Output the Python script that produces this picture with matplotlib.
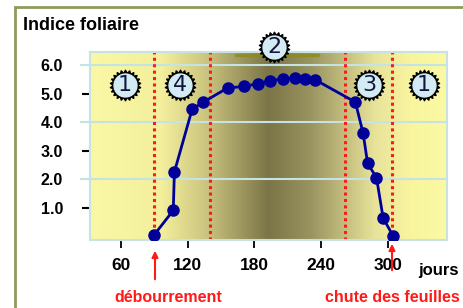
import numpy as np
import matplotlib
matplotlib.use("Agg")
import matplotlib.pyplot as plt
from matplotlib.path import Path
from matplotlib.colors import LinearSegmentedColormap
from matplotlib.patches import Rectangle

# ---- data ----
days = [90, 107, 108, 124, 134, 156, 171, 183, 194, 206, 217, 226, 235, 271, 278, 282, 290, 296, 305]
lai = [0.05, 0.9, 2.25, 4.45, 4.7, 5.2, 5.25, 5.35, 5.45, 5.52, 5.55, 5.52, 5.48, 4.7, 3.6, 2.55, 2.05, 0.63, 0.0]
phase_lines = [90, 140, 262, 304]
x_ticks = [60, 120, 180, 240, 300]
y_major = [2, 4, 6]
y_minor = [1, 3, 5]
badges = [("1", 125, 85), ("4", 180, 85), ("2", 274, 47), ("3", 369, 85), ("1", 424, 85)]

W, H = 463, 308
plt.rcParams['font.family'] = ['Liberation Sans', 'DejaVu Sans']
fig = plt.figure(figsize=(W / 100, H / 100), dpi=100)
fig.patch.set_facecolor('white')

def fx(px):
    return px / W

def fy(py):
    return 1 - py / H

ax = fig.add_axes([fx(90), fy(240), fx(447) - fx(90), fy(52) - fy(240)])
xmin, xmax = 32, 353.5
ymin, ymax = -0.14, 6.46
ax.set_xlim(xmin, xmax)
ax.set_ylim(ymin, ymax)

# gradient background
cmap = LinearSegmentedColormap.from_list(
    "bg", [(0.0, "#FAF8A6"), (0.2, "#F3EF9C"), (0.33, "#C9C27E"),
           (0.5, "#7B7547"), (0.62, "#9A9460"), (0.8, "#E8E39A"),
           (0.9, "#F8F59E"), (1.0, "#FBF9A4")])
grad = np.linspace(0, 1, 256).reshape(1, -1)
ax.imshow(grad, extent=[xmin, xmax, ymin, ymax], aspect='auto', cmap=cmap, zorder=0)

# olive smudge near top
ax.plot([0.41, 0.64], [0.985, 0.985], transform=ax.transAxes, color='#8E8A1E', lw=2.5,
        alpha=0.8, zorder=1, solid_capstyle='round')

for v in y_major:
    ax.axhline(v, color='#C4E4E4', lw=1.5, zorder=1)

for v in phase_lines:
    ax.axvline(v, color='#FF1A1A', lw=2.2, ls=(0, (1, 1.1)), zorder=2)

ax.plot(days, lai, color='#000099', lw=2, marker='o', ms=8, mfc='#000099', mec='#000099', zorder=3)

for s in ax.spines.values():
    s.set_color('#C8E2E2')
    s.set_linewidth(1.5)

ax.set_xticks(x_ticks)
ax.set_xticklabels([str(v) for v in x_ticks], fontsize=12.5, fontweight='bold')
ax.tick_params(axis='x', length=6, width=1.3, color='black', pad=7)
ax.set_yticks(y_major)
ax.set_yticklabels([f"{v:.1f}" for v in y_major], fontsize=11.5, fontweight='bold')
ax.set_yticks(y_minor, minor=True)
ax.set_yticklabels([f"{v:.1f}" for v in y_minor], minor=True, fontsize=11.5, fontweight='bold')
ax.tick_params(axis='y', which='major', length=7.5, width=1.5, color='#C4E4E4', pad=12)
ax.tick_params(axis='y', which='minor', length=6, width=1.5, color='black', pad=13.5)

# outer frame
fig.add_artist(Rectangle((fx(15), -0.2), 1.5, fy(7) + 0.2, transform=fig.transFigure,
                         fill=False, edgecolor='#8C9C5C', lw=2))

# title and labels
fig.text(fx(23), fy(25), "Indice foliaire", fontsize=13, fontweight='bold', va='center', ha='left')
fig.text(fx(418), fy(270), "jours", fontsize=12, fontweight='bold', va='center', ha='left')
fig.text(fx(168), fy(297), "débourrement", fontsize=11.5, fontweight='bold', color='#FF1A1A',
         va='center', ha='center')
fig.text(fx(325), fy(298), "chute des feuilles", fontsize=11.5, fontweight='bold', color='#FF1A1A',
         va='center', ha='left')

# arrows
for x0, yb, yt in [(155, 282, 248), (392, 273, 241)]:
    fig.add_artist(matplotlib.patches.FancyArrowPatch(
        (fx(x0), fy(yb)), (fx(x0), fy(yt)), transform=fig.transFigure,
        arrowstyle='-|>', mutation_scale=9, color='#FF1A1A', lw=1.5))

# badges
star = Path.unit_regular_star(22, 0.8)
for txt, bx, by in badges:
    fig.add_artist(matplotlib.lines.Line2D([fx(bx)], [fy(by)], transform=fig.transFigure,
                                           marker=star, ms=22, mfc='black', mec='black', ls=''))
    fig.add_artist(matplotlib.lines.Line2D([fx(bx)], [fy(by)], transform=fig.transFigure,
                                           marker='o', ms=16.5, mfc='#D3ECF3', mec='#D3ECF3', ls=''))
    fig.text(fx(bx), fy(by), txt, fontsize=16, color='#14143C', ha='center', va='center',
             family=['DejaVu Sans'])

fig.savefig("out.png", dpi=100)
